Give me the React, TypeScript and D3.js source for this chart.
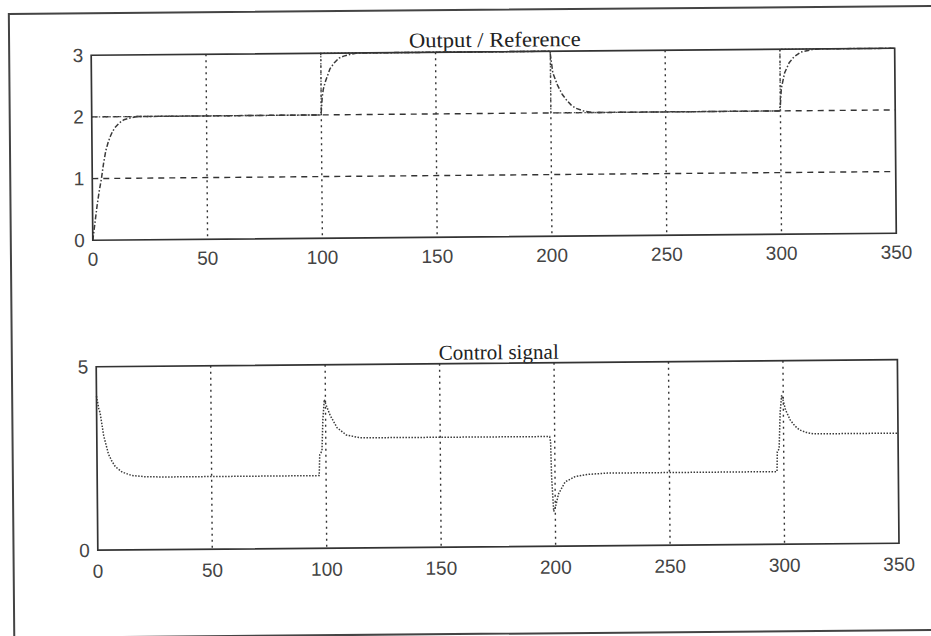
import React from "react";
import * as d3 from "d3";

// ---- data ----
const timeTicks = [0, 50, 100, 150, 200, 250, 300, 350];
const outputYTicks = [0, 1, 2, 3];
const controlYTicks = [0, 5];
const gridTimes = [50, 100, 150, 200, 250, 300];
const outputGridY = [1, 2];

const referenceT = [0, 100, 100, 200, 200, 300, 300, 350];
const referenceV = [2, 2, 3, 3, 2, 2, 3, 3];

const outputT = [0, 1, 2, 3, 4, 5, 6, 7, 8, 9, 10, 12, 14, 17, 20,
  99, 100, 100.5, 101, 102, 104, 106, 108, 110, 113, 116,
  199.5, 200, 200.5, 201, 203, 205, 207, 209, 211, 214, 218,
  299.5, 300, 300.5, 302, 304, 306, 309, 314, 318, 350];
const outputV = [0, 0.28, 0.56, 0.8, 1.0, 1.25, 1.45, 1.58, 1.68, 1.76, 1.82, 1.9, 1.95, 1.98, 2,
  2, 2.05, 2.3, 2.42, 2.55, 2.75, 2.85, 2.92, 2.95, 2.98, 3,
  3, 2.95, 2.8, 2.65, 2.45, 2.3, 2.2, 2.12, 2.07, 2.03, 2,
  2, 2.1, 2.37, 2.62, 2.78, 2.87, 2.95, 2.99, 3, 3];

const controlT = [0, 1, 1.5, 3, 5, 6.5, 8, 11, 15, 21, 30,
  97, 97.3, 98.3, 98.8, 99.5, 100, 102, 105, 109, 115,
  197.8, 198.2, 198.5, 199.3, 200, 201.5, 204.4, 208.7, 214.5, 223,
  297, 297.2, 298, 298.6, 299.3, 300, 301, 303, 305, 307, 310, 313, 350];
const controlV = [4.2, 3.85, 3.75, 3.12, 2.62, 2.42, 2.27, 2.12, 2.03, 1.99, 1.98,
  1.98, 2.55, 2.65, 3.5, 4.05, 3.95, 3.62, 3.28, 3.08, 3.0,
  2.99, 2.85, 1.9, 0.95, 1.05, 1.43, 1.75, 1.89, 1.95, 1.98,
  1.98, 2.52, 2.6, 3.6, 4.06, 3.9, 3.65, 3.38, 3.22, 3.11, 3.04, 3.0, 3.0];

const W = 931;
const H = 636;
const topBox = { left: 93.5, right: 897, top: 52, bottom: 237 };
const botBox = { left: 95.8, right: 897, top: 363.5, bottom: 547 };

const ink = "#333";
const labelFont = "'Liberation Sans', Arial, sans-serif";
const titleFont = "'Liberation Serif', 'Times New Roman', serif";

function zip(t: number[], v: number[]): [number, number][] {
  return t.map((tt, i) => [tt, v[i]]);
}

export default function App() {
  const xTop = d3.scaleLinear().domain([0, 350]).range([topBox.left, topBox.right]);
  const yTop = d3.scaleLinear().domain([0, 3]).range([topBox.bottom, topBox.top]);
  const xBot = d3.scaleLinear().domain([0, 350]).range([botBox.left, botBox.right]);
  const yBot = d3.scaleLinear().domain([0, 5]).range([botBox.bottom, botBox.top]);

  const lineTop = d3.line<[number, number]>().x((d) => xTop(d[0])).y((d) => yTop(d[1]));
  const lineBot = d3.line<[number, number]>().x((d) => xBot(d[0])).y((d) => yBot(d[1]));

  const refPath = lineTop(zip(referenceT, referenceV)) || "";
  const outPath = lineTop(zip(outputT, outputV)) || "";
  const ctlPath = lineBot(zip(controlT, controlV)) || "";

  return (
    <svg width={W} height={H} style={{ position: "absolute", left: 0, top: 0, background: "#fff" }}>
      <rect x={0} y={0} width={W} height={H} fill="#fff" />
      <g transform="rotate(-0.5 465 318)">
        {/* outer frame */}
        <rect x={11.5} y={10} width={940} height={624} fill="none" stroke="#444" strokeWidth={2} />

        {/* ---------- top subplot ---------- */}
        <text x={(topBox.left + topBox.right) / 2 + 2} y={topBox.top - 5} textAnchor="middle"
          fontFamily={titleFont} fontSize={21} fill="#222" textLength={172} lengthAdjust="spacingAndGlyphs">
          Output / Reference
        </text>
        {gridTimes.map((t) => (
          <line key={"tg" + t} x1={xTop(t)} x2={xTop(t)} y1={topBox.top} y2={topBox.bottom}
            stroke={ink} strokeWidth={1.4} strokeDasharray="2,4" />
        ))}
        {outputGridY.map((v) => (
          <line key={"hg" + v} x1={topBox.left} x2={topBox.right} y1={yTop(v)} y2={yTop(v)}
            stroke={ink} strokeWidth={1.4} strokeDasharray="6,5" />
        ))}
        <path d={refPath} fill="none" stroke="#555" strokeWidth={1.3} strokeDasharray="1.5,2" />
        <path d={outPath} fill="none" stroke="#3a3a3a" strokeWidth={1.5} strokeDasharray="5,2,1.5,2" />
        <rect x={topBox.left} y={topBox.top} width={topBox.right - topBox.left} height={topBox.bottom - topBox.top}
          fill="none" stroke={ink} strokeWidth={1.7} />
        {timeTicks.map((t) => (
          <text key={"tx" + t} x={xTop(t)} y={topBox.bottom + 19} textAnchor="middle" dominantBaseline="central"
            fontFamily={labelFont} fontSize={19} fill="#444">{t}</text>
        ))}
        {outputYTicks.map((v) => (
          <text key={"ty" + v} x={topBox.left - 8} y={yTop(v)} textAnchor="end" dominantBaseline="central"
            fontFamily={labelFont} fontSize={19} fill="#444">{v}</text>
        ))}

        {/* ---------- bottom subplot ---------- */}
        <text x={(botBox.left + botBox.right) / 2 + 2} y={botBox.top - 4} textAnchor="middle"
          fontFamily={titleFont} fontSize={21} fill="#222" textLength={120} lengthAdjust="spacingAndGlyphs">
          Control signal
        </text>
        {gridTimes.map((t) => (
          <line key={"bg" + t} x1={xBot(t)} x2={xBot(t)} y1={botBox.top} y2={botBox.bottom}
            stroke={ink} strokeWidth={1.4} strokeDasharray="2,4" />
        ))}
        <path d={ctlPath} fill="none" stroke="#3a3a3a" strokeWidth={1.5} strokeDasharray="1.5,1.5" />
        <rect x={botBox.left} y={botBox.top} width={botBox.right - botBox.left} height={botBox.bottom - botBox.top}
          fill="none" stroke={ink} strokeWidth={1.7} />
        {timeTicks.map((t) => (
          <text key={"bx" + t} x={xBot(t)} y={botBox.bottom + 21} textAnchor="middle" dominantBaseline="central"
            fontFamily={labelFont} fontSize={19} fill="#444">{t}</text>
        ))}
        {controlYTicks.map((v) => (
          <text key={"by" + v} x={botBox.left - 8} y={yBot(v)} textAnchor="end" dominantBaseline="central"
            fontFamily={labelFont} fontSize={19} fill="#444">{v}</text>
        ))}
      </g>
    </svg>
  );
}
